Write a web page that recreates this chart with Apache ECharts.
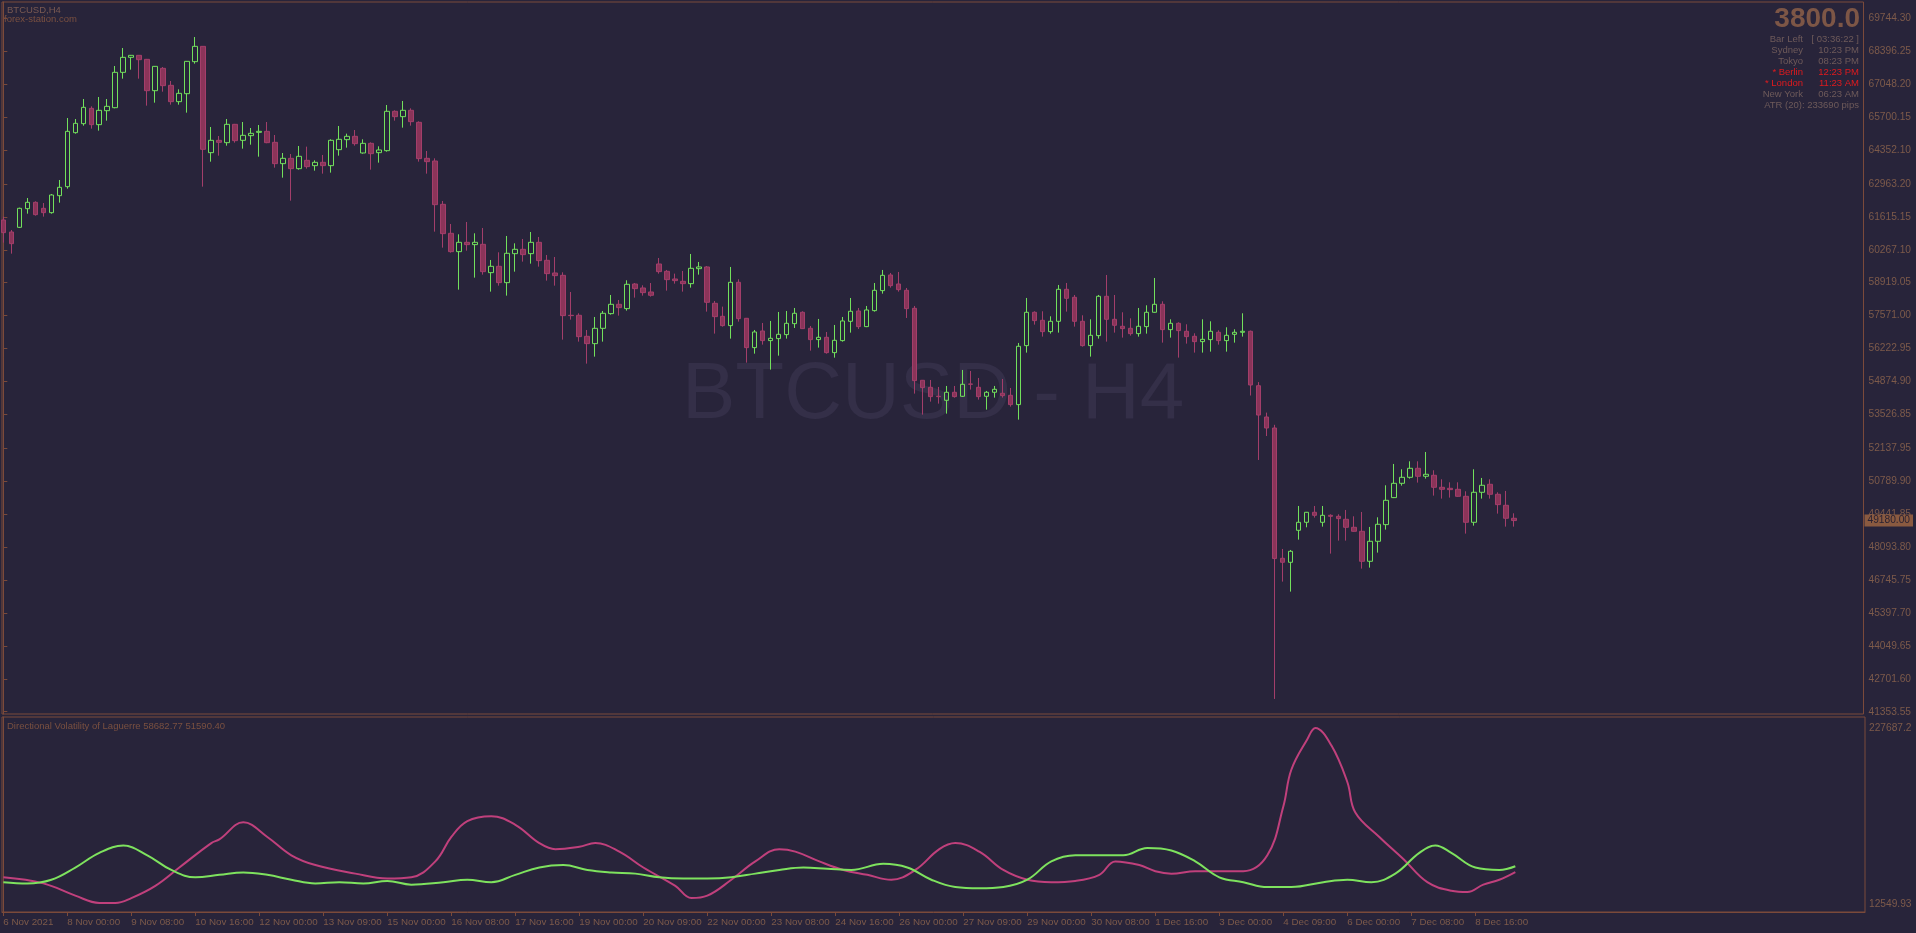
<!DOCTYPE html>
<html><head><meta charset="utf-8">
<script src="https://cdn.jsdelivr.net/npm/echarts@6/dist/echarts.min.js"></script>
<style>html,body{margin:0;padding:0;background:#28243a;}#c{width:1916px;height:933px;}</style>
</head><body><div id="c"></div>
<script>
// ---- DATA ----
const opens = [61486,60995,61186,61950,62210,61964,61786,62482,62851,65062,65430,66058,65389,65962,66085,67532,68146,68228,68064,66781,67696,67000,66331,66658,67969,68596,64243,64748,64652,65403,64748,64939,65075,65116,64666,63793,64011,63588,63929,63711,63848,63711,64366,64776,64912,64230,64625,64243,64325,65936,65717,65977,65485,64011,63902,62128,60941,60190,60572,60477,60490,59330,59590,58921,60108,60286,60108,60572,59835,59317,59221,57584,57584,56724,56424,57051,57652,58034,57857,58866,58703,58539,59685,59385,59071,58976,58880,59494,59563,58075,57543,57161,58935,57461,56260,56942,56547,56629,56792,57243,57707,57052,56588,56683,56055,56547,57338,57761,57120,57775,58594,59235,58866,58607,57870,54923,54636,54268,54104,54432,54268,54773,54636,54268,54432,54391,54309,53927,56342,57707,57379,56915,57338,58648,58321,57338,56342,56752,58362,57420,57134,57052,56833,57120,57707,58034,56997,57256,56929,56724,56506,56588,56888,56547,56806,56888,56929,54700,53420,52970,47635,47471,48781,49109,49518,49109,49395,49354,49232,48904,48740,47512,48331,49013,50119,50705,50951,51320,50992,51033,50542,50501,50460,50173,49109,50337,50665,50255,49805,49273];
const highs = [61623,61077,61990,62387,62250,62182,62551,63124,65662,65621,66440,66140,66522,66440,67791,68528,68240,68240,68080,67790,67750,67177,66836,67995,68978,68610,65294,64925,65621,65420,65498,65253,65376,65498,64966,64229,64188,64516,64489,63929,64148,64789,65335,65021,65171,64789,64666,64503,66195,65977,66359,66058,65526,64312,64011,62265,61323,60900,61405,60941,61159,59849,60163,60832,60531,60709,60995,60791,60054,59972,59344,58539,57666,56983,57515,57761,58416,58211,59017,58907,58812,58907,59931,59440,59290,59399,60095,59767,59603,58171,57939,59563,59058,57475,56983,57270,57352,57720,57761,57884,57748,57147,57434,56901,57188,57515,58293,57884,57966,58907,59440,59317,59358,58703,57966,54936,54936,54650,54691,54691,55346,55305,55018,54486,54691,54977,54609,56451,58294,57748,57748,57543,58826,58908,58416,57584,57420,58416,59235,58416,57707,57461,57884,57993,59112,58157,57420,57297,57216,56847,57420,57338,56970,57093,57011,57666,56960,54850,53600,53100,48017,47976,49777,49532,49777,49777,49436,49436,49614,49354,49532,48918,49313,50624,51497,51279,51606,51606,51988,51238,50869,50746,50746,50378,51279,50924,50869,50337,50392,49477];
const lows = [60558,60108,61160,61745,61664,61623,61745,62196,62769,65021,65348,65226,65144,65553,66060,67273,67641,67273,66167,66290,66740,66208,66208,65881,67887,62851,63874,64120,64529,64652,64407,64570,64079,64630,63629,63219,62278,63547,63588,63506,63384,63425,64121,64448,64530,64202,63547,63834,64284,65553,65267,65349,63875,63384,61009,60354,60149,58634,60231,59126,59249,58553,58798,58389,59371,59781,59699,59576,59003,58798,56587,57406,56506,55605,55891,56506,57611,57570,57775,58307,58389,58348,59290,58594,58880,58553,58717,59249,57734,56834,57120,56629,57325,55646,56014,56383,55359,55932,56629,57065,57024,56137,56260,56014,55850,56506,56874,57024,57100,57734,58471,58717,58553,57475,54377,53517,54049,53968,53558,54213,54240,54541,54131,53722,54213,54213,53845,53312,56056,57202,56711,56833,56874,57734,57120,56301,55892,56629,56506,56874,56670,56752,56711,56833,57690,56465,56670,55851,56424,56056,56056,56096,56383,56096,56465,56711,54300,51660,52640,41876,46680,46270,48399,48904,49300,48931,47826,48358,48358,48720,47212,47253,47867,48809,50100,50610,50897,50733,50897,50201,50078,50119,50150,48645,48972,50078,50078,49464,48931,48931];
const closes = [60968,60517,61964,62210,61705,61786,62510,62824,65116,65444,66099,65389,65976,66140,67532,68146,68228,68050,66781,67777,66986,66331,66672,67982,68596,64379,64748,64666,65403,64734,64953,65034,65116,64652,63793,64011,63588,64093,63670,63847,63711,64748,64789,64912,64612,64625,64202,64353,65936,65717,65977,65513,63998,63875,62114,60927,60190,60572,60477,60572,59371,59590,58921,60122,60286,60067,60572,59822,59290,59208,57570,57570,56710,56424,57051,57666,58034,57897,58853,58675,58512,58403,59371,59044,59003,58880,59508,59563,58116,57529,57161,58935,57447,56260,56901,56547,56642,56806,57256,57666,57038,56588,56683,56055,56560,57352,57748,57120,57802,58607,59221,58798,58634,57857,54909,54622,54254,54254,54432,54254,54759,54759,54254,54432,54554,54295,53927,56315,57707,57366,56915,57338,58648,58280,57338,56342,56765,58362,57420,57175,57038,56833,57134,57707,58034,56997,57256,56956,56711,56506,56601,56929,56547,56765,56888,56929,54731,53500,52970,47624,47471,47921,49109,49518,49395,49395,49354,49259,48904,48740,47512,48331,49027,50009,50705,50951,51320,50992,51074,50542,50460,50446,50173,49109,50337,50624,50255,49832,49273,49180];

const timeLabels = ['6 Nov 2021','8 Nov 00:00','9 Nov 08:00','10 Nov 16:00','12 Nov 00:00','13 Nov 09:00','15 Nov 00:00','16 Nov 08:00','17 Nov 16:00','19 Nov 00:00','20 Nov 09:00','22 Nov 00:00','23 Nov 08:00','24 Nov 16:00','26 Nov 00:00','27 Nov 09:00','29 Nov 00:00','30 Nov 08:00','1 Dec 16:00','3 Dec 00:00','4 Dec 09:00','6 Dec 00:00','7 Dec 08:00','8 Dec 16:00'];
const priceTicks = [69744.30,68396.25,67048.20,65700.15,64352.10,62963.20,61615.15,60267.10,58919.05,57571.00,56222.95,54874.90,53526.85,52137.95,50789.90,49441.85,48093.80,46745.75,45397.70,44049.65,42701.60,41353.55];
const indTicks = [227687.2, 12549.93];
const indTickText = ['227687.2','12549.93'];

// Directional Volatility of Laguerre (sampled bar index -> value)
const magBars = [0,5,9,12,14,16,19,22,26,27,30,33,36,39,44,48,51,54,56,58,61,64,67,69,72,74,77,80,84,86,88,91,94,97,99,102,105,108,111,114,117,119,122,125,128,131,134,137,139,142,144,146,149,152,155,158,160,161,163,164,166,168,169,172,175,178,181,183,185,187,189];
const magVals = [45195,37727,22791,13829,13829,19804,34740,57144,87016,91497,112407,94484,72080,60131,49676,43702,45195,64612,94484,113901,119875,109420,87016,79548,82535,87016,76561,57144,34740,19804,22791,42208,64612,79548,76561,64612,54157,48182,42208,54157,79548,87016,76561,54157,42208,39221,40715,48182,64612,60131,52663,49676,52663,52663,52663,72080,131824,176632,213972,227687,206504,161696,124356,94484,67600,39221,28766,27272,36234,42208,51590];
const grnBars = [0,3,6,9,12,15,18,21,24,27,30,33,36,39,42,45,48,51,55,58,61,64,67,70,73,76,79,82,85,88,91,94,97,100,103,106,110,113,116,119,122,125,128,131,134,137,140,143,146,149,152,155,158,161,165,168,171,174,177,179,181,184,187,189];
const grnVals = [39221,37727,42208,57144,75068,84029,72080,54157,45195,48182,51170,48182,42208,37727,39221,37727,40715,36234,39221,42208,39221,48182,57144,60131,54157,51170,49676,45195,43702,43702,45195,49676,54157,57144,55650,54157,61625,57144,42208,33246,31753,33246,42208,64612,72080,72080,72080,81042,78055,64612,45195,39221,33246,33246,39221,42208,39221,49676,75068,84029,75068,57144,54157,58683];

// ---- STYLE ----
const BG = '#28243a', FRAME = '#7b4a3a', TXT = '#7d5a4a';
const GREEN = '#72e05c', RED_FILL = '#8a3459', RED_BORDER = '#a33e6a';
const MAG = '#c0407c', GLINE = '#7ee25e';
const FONT = 'Liberation Sans';
const SMALL = '9.5px "Liberation Sans"';

const XMIN = -0.166, XMAX = 232.71;
const tickBars = timeLabels.map((_, k) => k * 8);
const candleData = opens.map((o, i) => [i, o, closes[i], lows[i], highs[i]]);
const lastClose = closes[closes.length - 1];

const chart = echarts.init(document.getElementById('c'), null, {width: 1916, height: 933});
const option = {
  backgroundColor: BG,
  animation: false,
  grid: [
    {left: 2, top: 2, right: 51, height: 712, show: true, borderColor: FRAME, borderWidth: 1, backgroundColor: 'transparent'},
    {left: 2, top: 717, right: 51, height: 195, show: true, borderColor: FRAME, borderWidth: 1, backgroundColor: 'transparent'}
  ],
  xAxis: [
    {type: 'value', gridIndex: 0, min: XMIN, max: XMAX, show: false, splitLine: {show: false}},
    {type: 'value', gridIndex: 1, min: XMIN, max: XMAX, position: 'bottom',
      axisLine: {show: true, lineStyle: {color: FRAME}},
      axisTick: {show: true, customValues: tickBars, length: 4, lineStyle: {color: FRAME}},
      axisLabel: {customValues: tickBars, formatter: v => timeLabels[Math.round(v / 8)], align: 'left', color: TXT, fontSize: 9.8, fontFamily: FONT, margin: 5},
      splitLine: {show: false}}
  ],
  yAxis: [
    {type: 'value', gridIndex: 0, position: 'right', min: 41259.4, max: 70411.7, scale: true,
      axisLine: {show: true, lineStyle: {color: FRAME}},
      axisTick: {show: true, customValues: priceTicks, length: 4, lineStyle: {color: FRAME}},
      axisLabel: {customValues: priceTicks, formatter: v => v.toFixed(2), color: TXT, fontSize: 10.2, fontFamily: FONT, margin: 5},
      splitLine: {show: false}},
    {type: 'value', gridIndex: 1, position: 'right', min: 2771, max: 241139, scale: true,
      axisLine: {show: true, lineStyle: {color: FRAME}},
      axisTick: {show: false},
      axisLabel: {customValues: indTicks, formatter: v => indTickText[indTicks.indexOf(v)] || '', color: TXT, fontSize: 10.2, fontFamily: FONT, margin: 4},
      splitLine: {show: false}},
    {type: 'value', gridIndex: 0, position: 'right', min: 41259.4, max: 70411.7, scale: true,
      axisLine: {show: false}, axisTick: {show: false}, splitLine: {show: false},
      axisLabel: {customValues: [lastClose], formatter: v => v.toFixed(2), color: '#2a2232', backgroundColor: '#8a5a40', padding: [1, 3, 1, 3], fontSize: 10.2, fontFamily: FONT, margin: 1}}
  ],
  graphic: [
    {type: 'text', left: 682, top: 356, z: 0, silent: true,
      style: {text: 'BTCUSD - H4', fill: '#342f48', font: '80px "Liberation Sans"'}},
    {type: 'text', left: 7, top: 5, style: {text: 'BTCUSD,H4', fill: '#7a5a52', font: SMALL}},
    {type: 'text', left: 4, top: 14, style: {text: 'forex-station.com', fill: '#7a5040', font: SMALL}},
    {type: 'text', right: 1916 - 1860, top: 5, style: {text: '3800.0', fill: '#7d5646', font: 'bold 28px "Liberation Sans"', textAlign: 'right'}},
    {type: 'group', children: [
      ['Bar Left', '[ 03:36:22 ]', '#6e5a5a', 39],
      ['Sydney', '10:23 PM', '#6e5a5a', 50],
      ['Tokyo', '08:23 PM', '#6e5a5a', 61],
      ['* Berlin', '12:23 PM', '#e01a1e', 72],
      ['* London', '11:23 AM', '#e01a1e', 83],
      ['New York', '06:23 AM', '#6e5a5a', 94]
    ].flatMap(r => [
      {type: 'text', x: 1803, y: r[3], style: {text: r[0], fill: r[2], font: SMALL, textAlign: 'right', textVerticalAlign: 'middle'}},
      {type: 'text', x: 1859, y: r[3], style: {text: r[1], fill: r[2], font: SMALL, textAlign: 'right', textVerticalAlign: 'middle'}}
    ]).concat([
      {type: 'text', x: 1859, y: 105, style: {text: 'ATR (20): 233690 pips', fill: '#6e5a5a', font: SMALL, textAlign: 'right', textVerticalAlign: 'middle'}}
    ])},
    {type: 'text', left: 7, top: 721, style: {text: 'Directional Volatility of Laguerre 58682.77 51590.40', fill: '#7a5040', font: SMALL}}
  ],
  series: [
    {type: 'candlestick', xAxisIndex: 0, yAxisIndex: 0, data: candleData,
      dimensions: ['x', 'open', 'close', 'lowest', 'highest'],
      encode: {x: 'x', y: ['open', 'close', 'lowest', 'highest']},
      barWidth: 5,
      itemStyle: {color: 'transparent', color0: RED_FILL, borderColor: GREEN, borderColor0: RED_BORDER, borderWidth: 1}},
    {type: 'line', xAxisIndex: 1, yAxisIndex: 1, data: magBars.map((b, i) => [b, magVals[i]]), smooth: 0.4, showSymbol: false, lineStyle: {color: MAG, width: 2}},
    {type: 'line', xAxisIndex: 1, yAxisIndex: 1, data: grnBars.map((b, i) => [b, grnVals[i]]), smooth: 0.4, showSymbol: false, lineStyle: {color: GLINE, width: 2}}
  ]
};
chart.setOption(option);
</script></body></html>
